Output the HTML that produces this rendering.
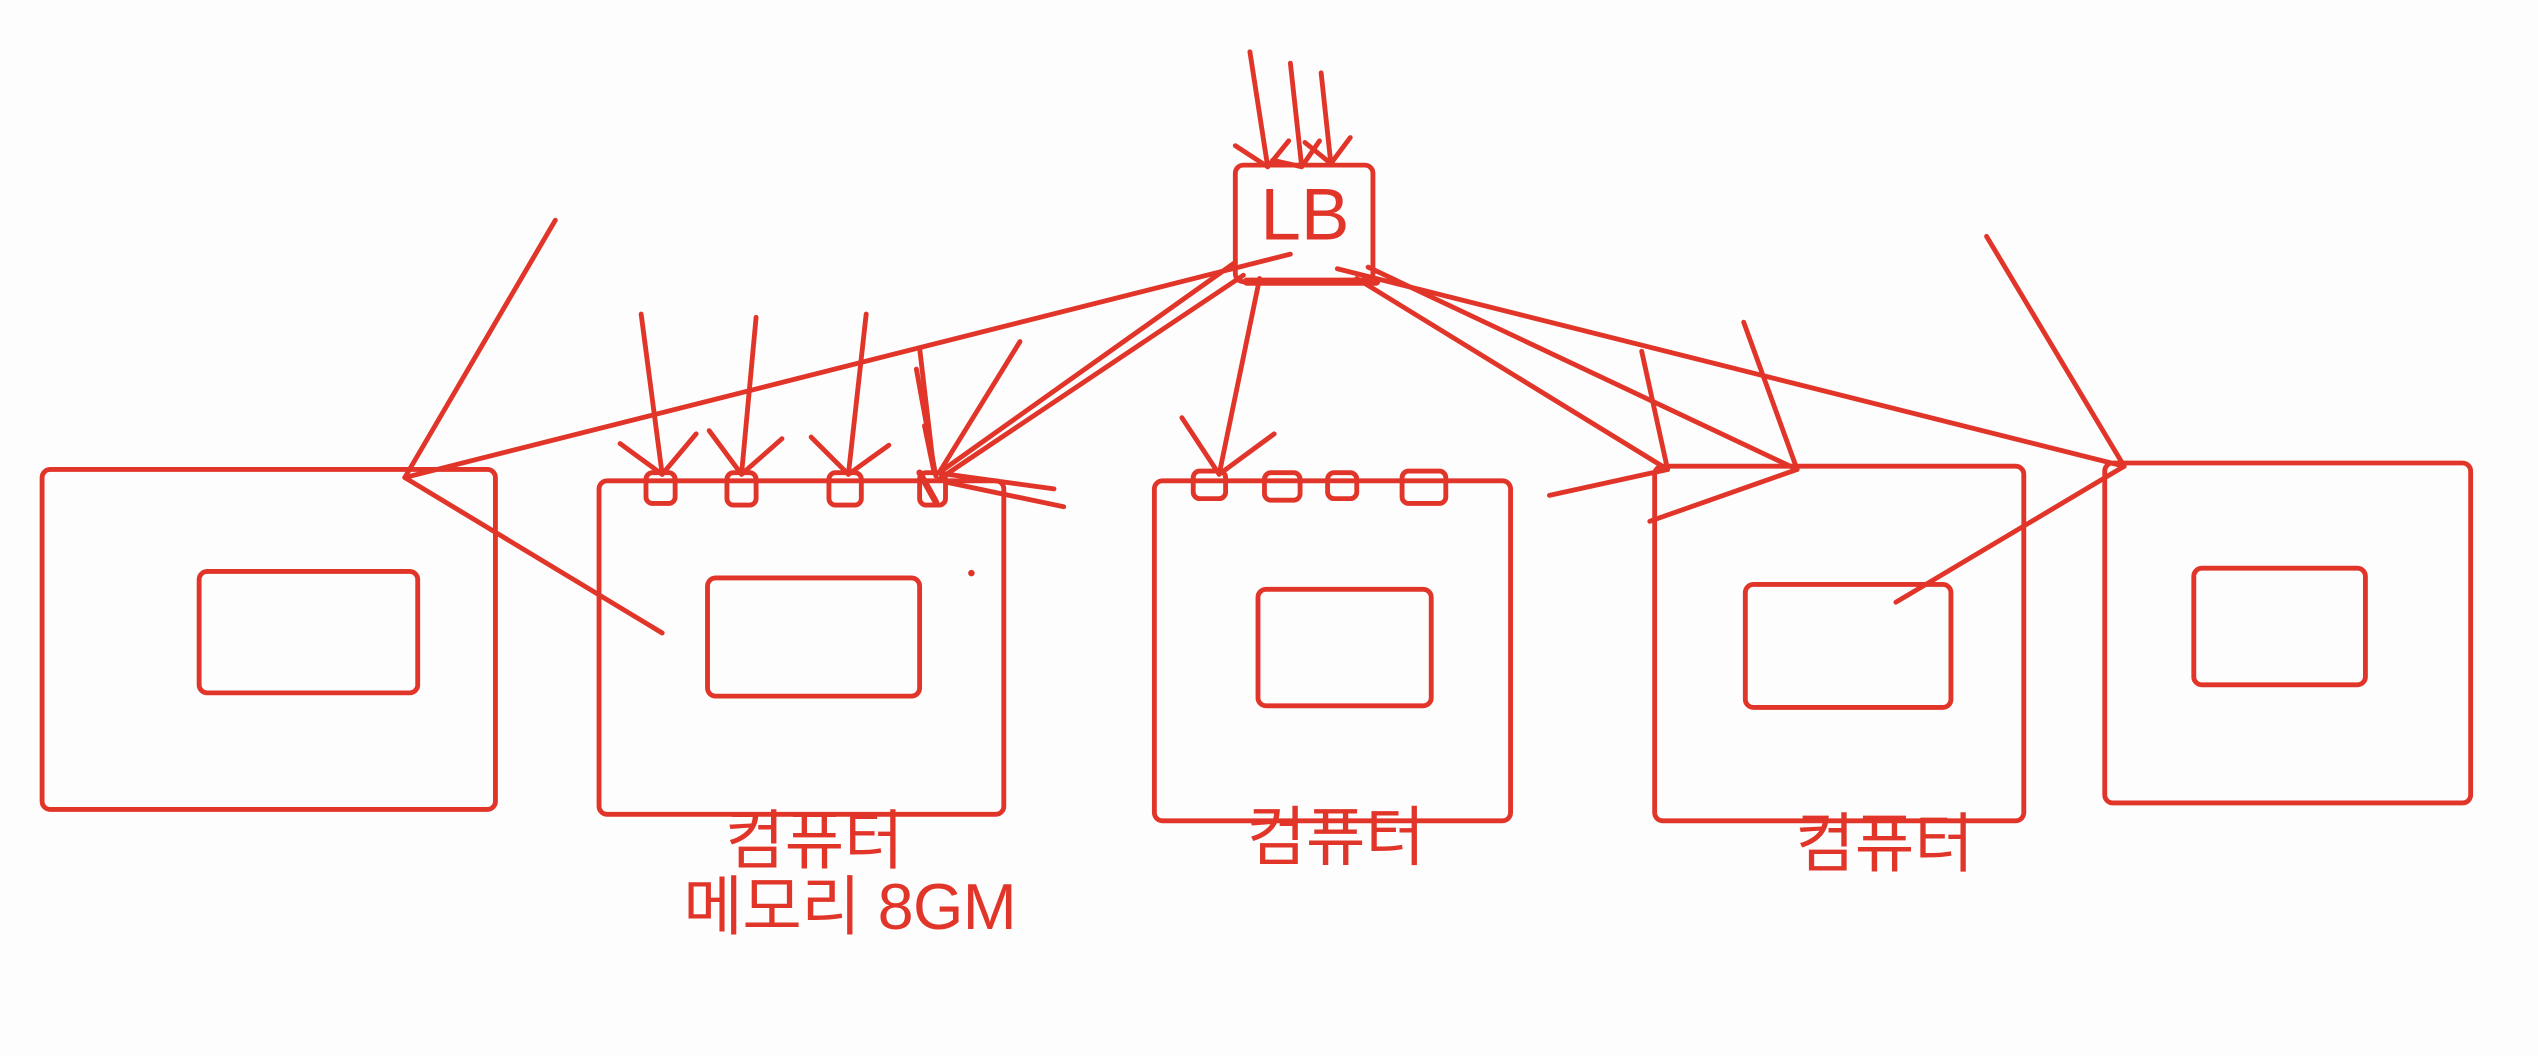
<!DOCTYPE html>
<html><head><meta charset="utf-8"><style>
html,body{margin:0;padding:0;background:#fdfdfd;}
svg{display:block;}
text{font-family:"Liberation Sans","Noto Sans CJK KR",sans-serif;fill:#e2352a;}
</style></head><body>
<svg width="2538" height="1056" viewBox="0 0 1567.6 652.3" preserveAspectRatio="none" xmlns="http://www.w3.org/2000/svg">
<g fill="none" stroke="#e2352a" stroke-width="3" stroke-linecap="round" stroke-linejoin="round">
<rect x="26" y="290" width="280" height="210" rx="5"/>
<rect x="123" y="353" width="135" height="75" rx="5"/>
<rect x="370" y="297" width="250" height="206" rx="5"/>
<rect x="437" y="357" width="131" height="73" rx="5"/>
<rect x="713" y="297" width="220" height="210" rx="5"/>
<rect x="777" y="364" width="107" height="72" rx="5"/>
<rect x="1022" y="288" width="228" height="219" rx="5"/>
<rect x="1078" y="361" width="127" height="76" rx="5"/>
<rect x="1300" y="286" width="226" height="210" rx="5"/>
<rect x="1355" y="351" width="106" height="72" rx="5"/>
<rect x="763" y="102" width="85" height="72" rx="5"/>
<line x1="770" y1="174" x2="850" y2="174" stroke-width="5"/>
<rect x="399" y="292" width="18" height="19" rx="4"/>
<rect x="449" y="292" width="18" height="20" rx="4"/>
<rect x="512" y="292" width="20" height="20" rx="4"/>
<rect x="568" y="292" width="16" height="20" rx="4"/>
<rect x="737" y="291" width="20" height="17" rx="4"/>
<rect x="781" y="292" width="22" height="17" rx="4"/>
<rect x="820" y="292" width="18" height="16" rx="4"/>
<rect x="866" y="291" width="27" height="20" rx="4"/>
<polyline points="343,136 250,295 409,391"/>
<line x1="250" y1="295" x2="797" y2="157"/>
<line x1="396" y1="194" x2="409" y2="293"/><polyline points="383,274 409,293 430,268"/>
<line x1="467" y1="196" x2="458" y2="293"/><polyline points="438,266 458,293 483,271"/>
<line x1="535" y1="194" x2="524" y2="293"/><polyline points="501,270 524,293 549,275"/>
<line x1="568" y1="215" x2="577" y2="292"/>
<line x1="566" y1="228" x2="578" y2="294"/>
<line x1="630" y1="211" x2="580" y2="292"/>
<line x1="571" y1="263" x2="577" y2="292"/>
<line x1="763" y1="162" x2="580" y2="292"/>
<line x1="768" y1="170" x2="580" y2="296"/>
<line x1="578" y1="292" x2="651" y2="302"/>
<line x1="585" y1="298" x2="657" y2="313"/>
<line x1="568" y1="292" x2="578" y2="310" stroke-width="4"/>
<line x1="772" y1="32" x2="783" y2="103"/><polyline points="763,90 783,103 796,87"/>
<line x1="797" y1="39" x2="804" y2="103"/><polyline points="786,99 804,103 815,87"/>
<line x1="816" y1="45" x2="822" y2="101"/><polyline points="806,88 822,101 834,85"/>
<line x1="778" y1="172" x2="753" y2="293"/><polyline points="730,258 753,293 787,268"/>
<line x1="826" y1="166" x2="1312" y2="288"/>
<line x1="845" y1="165" x2="1110" y2="290"/>
<line x1="838" y1="172" x2="1030" y2="290"/>
<line x1="1014" y1="217" x2="1030" y2="290"/>
<line x1="1077" y1="199" x2="1110" y2="290"/>
<line x1="1110" y1="290" x2="1019" y2="322"/>
<line x1="1030" y1="290" x2="957" y2="306"/>
<line x1="1227" y1="146" x2="1312" y2="288"/>
<line x1="1312" y1="288" x2="1171" y2="372"/>
</g>
<circle cx="600" cy="354" r="2" fill="#e2352a"/>
<text x="806" y="148" font-size="45" text-anchor="middle">LB</text>
<text x="503" y="533" font-size="40" text-anchor="middle">컴퓨터</text>
<text x="525" y="574" font-size="40" text-anchor="middle" textLength="206">메모리 8GM</text>
<text x="825" y="531" font-size="40" text-anchor="middle">컴퓨터</text>
<text x="1164" y="535" font-size="40" text-anchor="middle">컴퓨터</text>
</svg>
</body></html>
